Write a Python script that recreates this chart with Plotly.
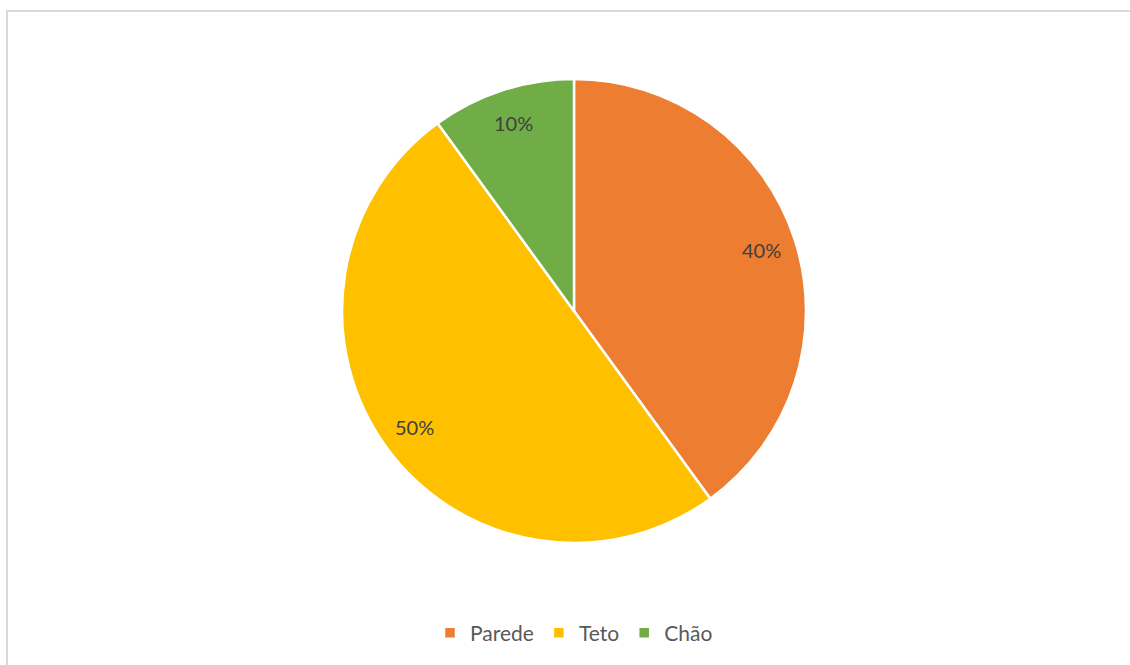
import math
import plotly.graph_objects as go

# Share of each surface
categories = ["Parede", "Teto", "Chão"]
shares = [40, 50, 10]
colors = ["#ED7D31", "#FFC000", "#70AD47"]

W, H = 1130, 665

# Pie placement (pixels)
CX, CY, R = 574, 311, 232
LABEL_RADIUS = 0.85

fig = go.Figure(
    go.Pie(
        labels=categories,
        values=shares,
        sort=False,
        direction="clockwise",
        rotation=0,
        marker=dict(colors=colors, line=dict(color="white", width=2.5)),
        textinfo="none",
        domain=dict(x=[(CX - R) / W, (CX + R) / W], y=[1 - (CY + R) / H, 1 - (CY - R) / H]),
        hoverinfo="label+percent",
    )
)

# Data labels placed along each slice's bisector, near the rim
annotations = []
total = sum(shares)
cum = 0
for share in shares:
    theta = 2 * math.pi * (cum + share / 2) / total
    cum += share
    px = CX + LABEL_RADIUS * R * math.sin(theta)
    py = CY - LABEL_RADIUS * R * math.cos(theta)
    annotations.append(
        dict(
            x=px / W,
            y=1 - py / H,
            xref="paper",
            yref="paper",
            text=f"{round(100 * share / total)}%",
            showarrow=False,
            xanchor="center",
            yanchor="middle",
            font=dict(family="Lato, Open Sans, sans-serif", size=20, color="#404040"),
        )
    )

fig.update_layout(
    width=W,
    height=H,
    margin=dict(l=0, r=0, t=0, b=0),
    paper_bgcolor="white",
    plot_bgcolor="white",
    showlegend=True,
    legend=dict(
        orientation="h",
        x=0.5 + 9 / W,
        xanchor="center",
        y=1 - 633 / H,
        yanchor="middle",
        font=dict(family="Lato, Open Sans, sans-serif", size=21, color="#595959"),
        itemwidth=30,
        tracegroupgap=0,
    ),
    annotations=annotations,
    shapes=[
        dict(
            type="rect",
            xref="paper",
            yref="paper",
            x0=7 / W,
            x1=1.05,
            y0=-0.05,
            y1=1 - 11 / H,
            line=dict(color="#D9D9D9", width=2),
            fillcolor="rgba(0,0,0,0)",
            layer="below",
        )
    ],
)

fig.write_html("out.html")
